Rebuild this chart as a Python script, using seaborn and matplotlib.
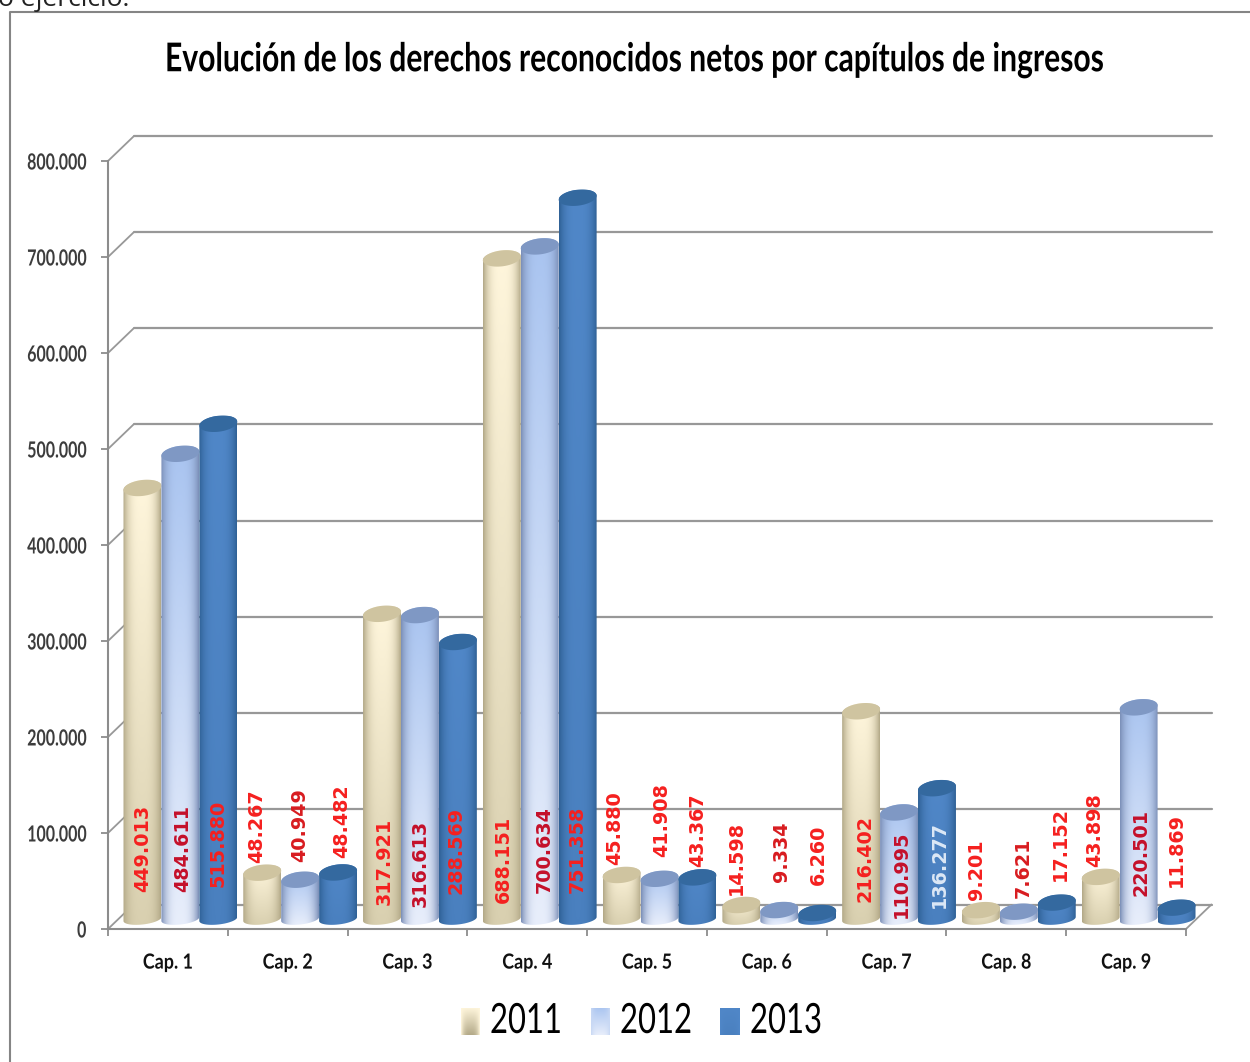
import numpy as np
import pandas as pd
import matplotlib
matplotlib.use('Agg')
import matplotlib.pyplot as plt
import seaborn as sns
from matplotlib.colors import to_rgb
from matplotlib.patches import Polygon
from matplotlib.patheffects import AbstractPathEffect
from matplotlib.transforms import Affine2D

# datos
capitulos = ['Cap. 1', 'Cap. 2', 'Cap. 3', 'Cap. 4', 'Cap. 5', 'Cap. 6', 'Cap. 7', 'Cap. 8', 'Cap. 9']
anios = ['2011', '2012', '2013']
valores_2011 = [449013, 48267, 317921, 688151, 45880, 14598, 216402, 9201, 43898]
valores_2012 = [484611, 40949, 316613, 700634, 41908, 9334, 110995, 7621, 220501]
valores_2013 = [515880, 48482, 288569, 751358, 43367, 6260, 136277, 17152, 11869]
yticks = [0, 100000, 200000, 300000, 400000, 500000, 600000, 700000, 800000]
ytick_labels = ['0', '100.000', '200.000', '300.000', '400.000', '500.000', '600.000', '700.000', '800.000']
titulo = 'Evolución de los derechos reconocidos netos por capítulos de ingresos'

# etiquetas: posicion (x, parte de abajo) en pixeles de la imagen, por capitulo y año
etiqueta_x = [[143, 183, 218], [257, 300, 342], [384, 420, 456], [503, 544, 577], [615, 662, 698],
              [736, 781, 818], [865, 901, 939], [976, 1023, 1060], [1095, 1141, 1176]]
etiqueta_y = [[892, 892, 887], [863, 862, 858], [905, 907, 894], [903, 893, 893], [865, 857, 867],
              [895, 882, 885], [902, 918, 908], [900, 898, 881], [867, 896, 887]]
rojo = '#f5201f'
oscuro = '#c4102a'
etiqueta_color = [[rojo, oscuro, rojo], [rojo, '#d81c20', rojo], [rojo, oscuro, rojo], [rojo, oscuro, rojo],
                  [rojo, rojo, rojo], [rojo, '#d81c20', rojo], [rojo, oscuro, '#dce8f6'],
                  [rojo, '#d81c20', rojo], [rojo, oscuro, rojo]]

# colores del cilindro: arriba, abajo, borde, tapa
estilos = {
    '2011': ('#fff6dc', '#d9d0b0', '#b3a988', '#cfc4a0'),
    '2012': ('#a9c4f0', '#e8eefb', '#7c90b8', '#7f98c4'),
    '2013': ('#5087c8', '#4a80bf', '#2f6196', '#34699f'),
}

df = pd.DataFrame({
    'capitulo': capitulos * 3,
    'anio': np.repeat(anios, 9),
    'valor': valores_2011 + valores_2012 + valores_2013,
})

W, H = 1250, 1062
sns.set_theme(style='white')
plt.rcParams['font.family'] = ['Lato', 'DejaVu Sans']


class Condensar(AbstractPathEffect):
    # estrecha el texto en horizontal alrededor de x0 (pixeles), no hay fuente estrecha instalada
    def __init__(self, x0, escala):
        super().__init__()
        self.x0 = x0
        self.escala = escala

    def draw_path(self, renderer, gc, tpath, affine, rgbFace=None):
        extra = Affine2D().translate(-self.x0, 0).scale(self.escala, 1).translate(self.x0, 0)
        renderer.draw_path(gc, tpath, affine + extra, rgbFace)


def caja(izq, arriba, der, abajo):
    return [izq / W, 1 - abajo / H, (der - izq) / W, (abajo - arriba) / H]


def degradado(arriba, abajo, borde, n=64):
    arriba, abajo, borde = [np.array(to_rgb(c)) for c in (arriba, abajo, borde)]
    v = np.linspace(0, 1, n)[:, None, None]
    u = np.linspace(-1, 1, n)[None, :, None]
    base = arriba * (1 - v) + abajo * v
    peso = np.abs(u) ** 3
    return base * (1 - peso) + borde * peso


def ajustar(t, ancho, x0):
    # condensa el texto t hasta que mida ancho pixeles
    w = t.get_window_extent(fig.canvas.get_renderer()).width
    t.set_path_effects([Condensar(x0, ancho / w)])


fig = plt.figure(figsize=(W / 100, H / 100), dpi=100)

# plano frontal con los ejes
ax = fig.add_axes(caja(108, 161, 1186, 929))
ax.set_xlim(-0.5, 8.5)
ax.set_ylim(0, 800000)
ux = 9 / (1186 - 108)
uy = 800000 / (929 - 161)
gris = '#989898'
for s in ['top', 'right']:
    ax.spines[s].set_visible(False)
for s in ['left', 'bottom']:
    ax.spines[s].set_color('#8c8c8c')
    ax.spines[s].set_linewidth(1.5)
ax.set_yticks(yticks, labels=ytick_labels)
ax.set_xticks(np.arange(-0.5, 9), labels=[])
ax.set_xticks(np.arange(9), labels=capitulos, minor=True)
ax.tick_params(axis='both', which='major', length=5, width=1.3, color='#8c8c8c', left=True, bottom=True)
ax.tick_params(axis='y', pad=12, labelsize=16, labelcolor='#3c3c3c')
ax.tick_params(axis='x', which='minor', length=0, pad=17, labelsize=15, labelcolor='#111111')
for t in ax.get_yticklabels():
    t.set_fontweight('bold')
    t.set_path_effects([Condensar(91, 0.72)])
for k, t in enumerate(ax.get_xticklabels(minor=True)):
    t.set_fontweight('bold')
    t.set_path_effects([Condensar(108 + 119.8 * (k + 0.5), 0.86)])
ax.grid(False)

# pared del fondo y suelo
dx = 25.5 * ux
dy = 24.5 * uy
for v in yticks:
    ax.plot([-0.5, -0.5 + dx], [v, v + dy], color=gris, lw=1.3, clip_on=False, zorder=1)
    ax.plot([-0.5 + dx, 8.5 + dx], [v + dy, v + dy], color=gris, lw=1.6, clip_on=False, zorder=1)
ax.plot([8.5, 8.5 + dx], [0, dy], color=gris, lw=1.3, clip_on=False, zorder=1)

# barras, desplazadas hacia el fondo
ax_barras = fig.add_axes(caja(108 + 12.5, 161 - 10, 1186 + 12.5, 929 - 10))
ax_barras.patch.set_alpha(0)
sns.barplot(data=df, x='capitulo', y='valor', hue='anio', hue_order=anios, order=capitulos,
            width=0.95, saturation=1, legend=False, errorbar=None, ax=ax_barras)
ax_barras.set_xlim(-0.5, 8.5)
ax_barras.set_ylim(0, 800000)
ax_barras.axis('off')

semi_b = 8 * uy
semi_base = 5.5 * uy
cizalla = 2.0 * uy
t_sup = np.linspace(0, np.pi, 60)
t_inf = np.linspace(np.pi, 2 * np.pi, 60)
for i, anio in enumerate(anios):
    arriba, abajo, borde, tapa = estilos[anio]
    img = degradado(arriba, abajo, borde)
    for barra in ax_barras.containers[i]:
        barra.set_alpha(0)
        x0, w, h = barra.get_x(), barra.get_width(), barra.get_height()
        cx = x0 + w / 2
        a = w / 2
        orden_bar = 10 + round(cx * 20)
        x_abajo = cx + a * np.cos(t_inf)
        y_abajo = semi_base * np.sin(t_inf) + cizalla * np.cos(t_inf)
        x_arriba = cx + a * np.cos(t_sup)
        y_arriba = h + semi_b * np.sin(t_sup) + cizalla * np.cos(t_sup)
        cuerpo = np.column_stack([np.r_[x_abajo, x_arriba], np.r_[y_abajo, y_arriba]])
        im = ax_barras.imshow(img, extent=[x0, x0 + w, -semi_base, h + semi_b], aspect='auto',
                              origin='upper', zorder=orden_bar, interpolation='bilinear')
        im.set_clip_path(Polygon(cuerpo, transform=ax_barras.transData))
        im.set_clip_box(fig.bbox)
        x_tapa = cx + a * np.cos(np.r_[t_inf, t_sup])
        y_tapa = h + semi_b * np.sin(np.r_[t_inf, t_sup]) + cizalla * np.cos(np.r_[t_inf, t_sup])
        ax_barras.add_patch(Polygon(np.column_stack([x_tapa, y_tapa]), closed=True, fc=tapa, ec='none',
                                    zorder=orden_bar + 0.5, clip_on=False))
ax_barras.set_xlim(-0.5, 8.5)
ax_barras.set_ylim(0, 800000)

# etiquetas de datos
for c in range(9):
    for j, serie in enumerate([valores_2011, valores_2012, valores_2013]):
        txt = f'{serie[c]:,}'.replace(',', '.')
        fig.text(etiqueta_x[c][j] / W, 1 - etiqueta_y[c][j] / H, txt, rotation=90, ha='center', va='bottom',
                 color=etiqueta_color[c][j], fontsize=13.8, fontweight='bold', family='DejaVu Sans', zorder=20)

# titulo, marco y texto cortado de arriba
t_titulo = fig.text(635.5 / W, 1 - 60 / H, titulo, ha='center', va='center', fontsize=28.5, fontweight='bold',
                    color='black')
ajustar(t_titulo, 941, 635.5)
fig.add_artist(plt.Line2D([10 / W, 10 / W, 1], [0, 1 - 12 / H, 1 - 12 / H], color='#858585', lw=1.5))
fig.text(-2 / W, 1 - 6 / H, 'o ejercicio.', fontsize=19, color='#222222', va='baseline', family='Open Sans')

# leyenda
leyenda_x = [(461, 480, 490), (591, 610, 620), (720, 740, 750)]
for anio, (x0, x1, xt) in zip(anios, leyenda_x):
    arriba, abajo, borde, tapa = estilos[anio]
    ax_l = fig.add_axes(caja(x0, 1008, x1, 1035))
    ax_l.imshow(degradado(arriba, borde if anio == '2011' else abajo, arriba if anio != '2012' else '#c8d8f4'),
                aspect='auto', interpolation='bilinear')
    ax_l.axis('off')
    t_ley = fig.text(xt / W, 1 - 1021 / H, anio, fontsize=30, va='center', ha='left', color='black')
    ajustar(t_ley, 72, xt)

fig.savefig('out.png', dpi=100)
